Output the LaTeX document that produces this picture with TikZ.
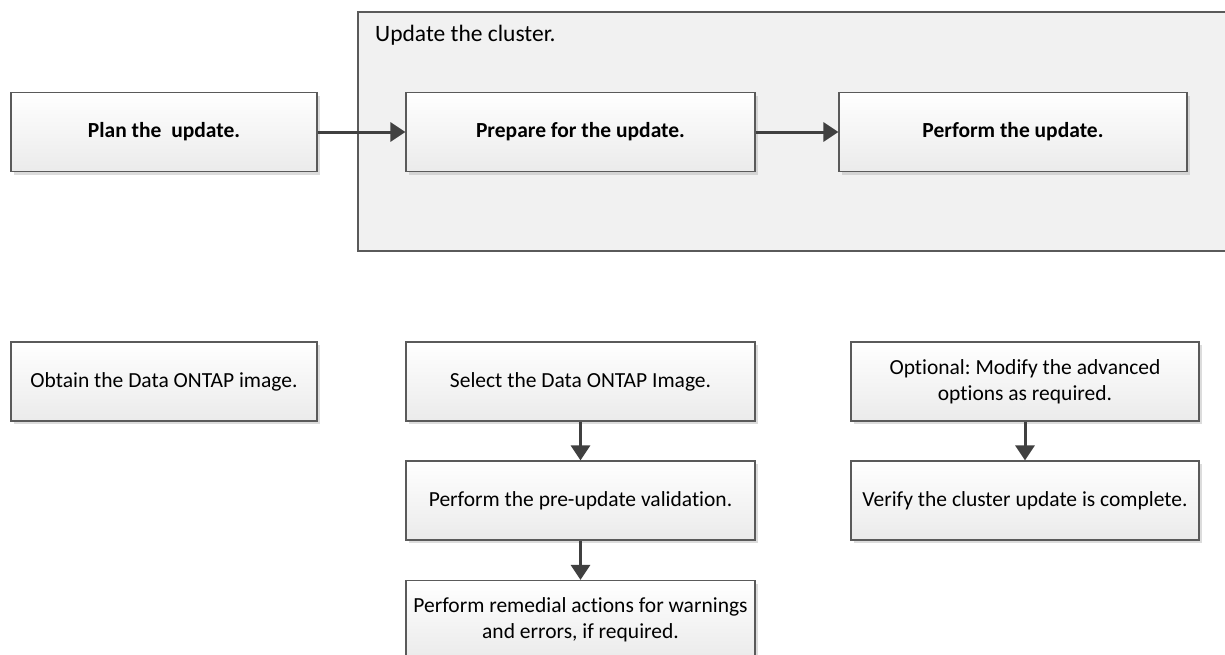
\documentclass[tikz,border=0pt]{standalone}
\usepackage{fontspec}
\setmainfont{Carlito}[Ligatures=NoCommon]
\usetikzlibrary{shadows,arrows.meta}
\definecolor{edge}{HTML}{5A5A5A}
\definecolor{arrowc}{HTML}{404040}
\definecolor{panel}{HTML}{F1F1F1}
\frenchspacing
\begin{document}
\begin{tikzpicture}[x=1pt,y=-1pt,
  stepbox/.style={draw=edge, line width=1.2pt, top color=white, bottom color=black!8,
    minimum width=349pt, minimum height=79pt, inner sep=0pt, align=center,
    font=\fontsize{21.5}{26}\selectfont,
    drop shadow={shadow xshift=3pt, shadow yshift=-3pt, fill=black!30, opacity=0.45}},
  keystep/.style={stepbox, font=\bfseries\fontsize{21.5}{26}\selectfont},
  flow/.style={draw=arrowc, line width=3pt, -{Triangle[length=15pt,width=19pt]}}]
\useasboundingbox (0,0) rectangle (1225,654);
\clip (0,0) rectangle (1225,654);

% container for the cluster update stage
\draw[edge, line width=1.4pt, fill=panel] (358,12) -- (1240,12) -- (1240,251) -- (358,251) -- cycle;
\node[anchor=base west, font=\fontsize{23.5}{28}\selectfont, inner sep=0pt] (title) at (375,41) {Update the cluster.};

% top row: stages
\node[keystep, minimum width=306pt] (plan) at (164,132) {Plan the\ \ update.};
\node[keystep] (prep) at (580.5,132) {Prepare for the update.};
\node[keystep, minimum width=348pt] (perf) at (1013,132) {Perform the update.};

% bottom row: tasks
\node[stepbox, minimum width=306pt] (obtain) at (164,381.5) {Obtain the Data ONTAP image.};
\node[stepbox] (select) at (580.5,381.5) {Select the Data ONTAP Image.};
\node[stepbox] (valid) at (580.5,500.5) {Perform the pre-update validation.};
\node[stepbox] (remed) at (580.5,620) {Perform remedial actions for warnings\\and errors, if required.};
\node[stepbox, minimum width=348pt] (opt) at (1025,381.5) {Optional: Modify the advanced\\options as required.};
\node[stepbox, minimum width=348pt] (verify) at (1025,500.5) {Verify the cluster update is complete.};

% connectors
\draw[flow] (plan) -- (prep);
\draw[flow] (prep) -- (perf);
\draw[flow] (select) -- (valid);
\draw[flow] (valid) -- (remed);
\draw[flow] (opt) -- (verify);
\end{tikzpicture}
\end{document}
